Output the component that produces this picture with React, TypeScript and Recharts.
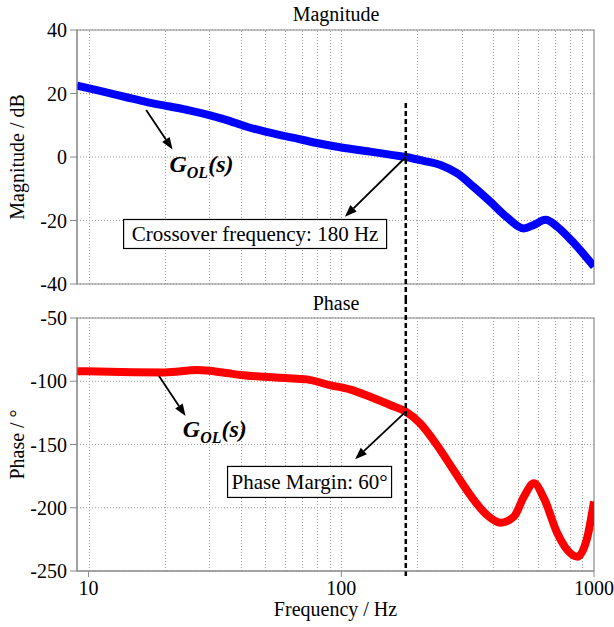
import React from 'react';
import {
  LineChart,
  Line,
  XAxis,
  YAxis,
  CartesianGrid,
  ReferenceLine,
  ReferenceDot,
  ReferenceArea
} from 'recharts';

const FONT = '"Liberation Serif", "Times New Roman", serif';

// open-loop magnitude (dB) vs frequency (Hz)
const magFreq = [9, 11, 14, 17, 21, 25, 30, 35, 42, 50, 65, 80, 100, 130, 160, 180, 212, 247, 287, 334, 389, 453, 527, 578, 643, 716, 834, 1000];
const magDb = [22.5, 20.9, 18.9, 17.3, 15.9, 14.7, 13.2, 11.7, 9.6, 8.0, 6.0, 4.4, 3.0, 1.7, 0.6, 0.0, -1.2, -2.5, -5.1, -9.4, -14.1, -19.0, -22.5, -21.4, -19.8, -22.0, -27.2, -34.5];

// open-loop phase (deg) vs frequency (Hz)
const phaseFreq = [9, 15, 20, 27, 35, 40, 50, 60, 73, 90, 108, 130, 156, 180, 205, 239, 278, 324, 377, 427, 482, 528, 578, 634, 716, 784, 859, 942, 1000];
const phaseDeg = [-92, -92.8, -93, -91.2, -93.5, -95, -96.5, -97.5, -98.5, -103, -106.4, -112.2, -118.8, -124, -133.2, -150.4, -170.2, -190, -205.7, -211.8, -207, -191.3, -180.7, -192.6, -220.2, -233.4, -238.7, -222.9, -195];

const xDomain = [9, 1000];
const xTicks = [10, 100, 1000];
const gridFreqs = [10, 20, 30, 40, 50, 60, 70, 80, 90, 100, 200, 300, 400, 500, 600, 700, 800, 900];
const magTicks = [-40, -20, 0, 20, 40];
const phaseTicks = [-250, -200, -150, -100, -50];
const crossoverHz = 180;

const magData = magFreq.map((f, i) => ({ f, v: magDb[i] }));
const phaseData = phaseFreq.map((f, i) => ({ f, v: phaseDeg[i] }));

const GRAY = '#8a8a8a';
const GRID = '#9c9c9c';
const tickStyle = { fill: '#000', fontSize: 20, fontFamily: FONT };

const Arrow = (p: any) => {
  const { x1, y1, x2, y2 } = p;
  const a = Math.atan2(y2 - y1, x2 - x1);
  const len = 12;
  const half = 4.5;
  const bx = x2 - len * Math.cos(a);
  const by = y2 - len * Math.sin(a);
  const px = -Math.sin(a) * half;
  const py = Math.cos(a) * half;
  return (
    <g>
      <line x1={x1} y1={y1} x2={bx} y2={by} stroke="#000" strokeWidth={1.8} />
      <polygon points={`${x2},${y2} ${bx + px},${by + py} ${bx - px},${by - py}`} fill="#000" />
    </g>
  );
};

// dotted grid line snapped to the pixel grid
const GridLine = (p: any) => {
  const x = Math.round(p.x1) + 0.5;
  return <line x1={x} y1={p.y1} x2={x} y2={p.y2} stroke={GRID} strokeWidth={1} strokeDasharray="1 2" />;
};

const boxLabel = (text: string, w: number, h: number) => (p: any) => (
  <g>
    <rect x={p.cx - w / 2} y={p.cy - h / 2} width={w} height={h} fill="#fff" stroke="#000" strokeWidth={1.2} />
    <text x={p.cx} y={p.cy} textAnchor="middle" dominantBaseline="central" fontFamily={FONT} fontSize={21} fill="#000">
      {text}
    </text>
  </g>
);

const gLabel = (p: any) => (
  <text x={p.cx} y={p.cy} fontFamily={FONT} fontWeight="bold" fontStyle="italic" fontSize={24} fill="#000">
    G
    <tspan fontSize={16} dy={6}>OL</tspan>
    <tspan dy={-6}>(s)</tspan>
  </text>
);

const yLabel = (text: string) => (props: any) => {
  const vb = props.viewBox || {};
  const cx = 17;
  const cy = vb.y + vb.height / 2;
  return (
    <text x={cx} y={cy} transform={`rotate(-90, ${cx}, ${cy})`} textAnchor="middle" dominantBaseline="central" fontFamily={FONT} fontSize={20} fill="#000">
      {text}
    </text>
  );
};

const vGrid = () =>
  gridFreqs.map(f => <ReferenceLine key={`g${f}`} x={f} shape={GridLine} />);

export default function App() {
  return (
    <div style={{ position: 'absolute', left: 0, top: 0, width: 614, height: 627, background: '#fff' }}>
      <div style={{ position: 'absolute', left: 0, top: 0 }}>
        <LineChart width={614} height={300} data={magData} margin={{ top: 30, right: 20, bottom: 16, left: 0 }}>
          <CartesianGrid vertical={false} stroke={GRID} strokeDasharray="1 2" />
          <XAxis dataKey="f" type="number" scale="log" domain={xDomain} allowDataOverflow hide />
          <YAxis
            type="number"
            domain={[-40, 40]}
            ticks={magTicks}
            width={77}
            tick={tickStyle}
            tickSize={7}
            tickMargin={3}
            axisLine={{ stroke: GRAY }}
            tickLine={{ stroke: GRAY }}
            label={yLabel('Magnitude / dB')}
          />
          {vGrid()}
          <ReferenceArea x1={xDomain[0]} x2={xDomain[1]} y1={-40} y2={40} fill="none" stroke={GRAY} strokeWidth={1.2} />
          <Line type="monotone" dataKey="v" stroke="#0000ff" strokeWidth={8} dot={false} isAnimationActive={false} />
          <ReferenceLine
            segment={[{ x: crossoverHz, y: 17 }, { x: crossoverHz, y: -45 }]}
            ifOverflow="visible"
            stroke="#000"
            strokeWidth={2.5}
            strokeDasharray="5 3"
          />
          <ReferenceLine segment={[{ x: 16.9, y: 14.8 }, { x: 21.5, y: 2.4 }]} shape={Arrow} />
          <ReferenceLine segment={[{ x: crossoverHz, y: 0 }, { x: 103.4, y: -18.8 }]} shape={Arrow} />
          <ReferenceDot x={20.9} y={-4.6} r={0} shape={gLabel} />
          <ReferenceDot x={45.6} y={-24.25} r={0} shape={boxLabel('Crossover frequency: 180 Hz', 263, 29)} />
        </LineChart>
      </div>
      <div style={{ position: 'absolute', left: 0, top: 300 }}>
        <LineChart width={614} height={327} data={phaseData} margin={{ top: 18, right: 20, bottom: 0, left: 0 }}>
          <CartesianGrid vertical={false} stroke={GRID} strokeDasharray="1 2" />
          <XAxis
            dataKey="f"
            type="number"
            scale="log"
            domain={xDomain}
            allowDataOverflow
            ticks={xTicks}
            height={56}
            tick={tickStyle}
            tickSize={6}
            tickMargin={4}
            axisLine={{ stroke: GRAY }}
            tickLine={{ stroke: GRAY }}
            label={{ value: 'Frequency / Hz', position: 'insideBottom', offset: 11, fill: '#000', fontSize: 20, fontFamily: FONT }}
          />
          <YAxis
            type="number"
            domain={[-250, -50]}
            ticks={phaseTicks}
            width={77}
            tick={tickStyle}
            tickSize={7}
            tickMargin={3}
            axisLine={{ stroke: GRAY }}
            tickLine={{ stroke: GRAY }}
            label={yLabel('Phase / °')}
          />
          {vGrid()}
          <ReferenceArea x1={xDomain[0]} x2={xDomain[1]} y1={-250} y2={-50} fill="none" stroke={GRAY} strokeWidth={1.2} />
          <Line type="monotone" dataKey="v" stroke="#ff0000" strokeWidth={8} dot={false} isAnimationActive={false} />
          <ReferenceLine
            segment={[{ x: crossoverHz, y: -35 }, { x: crossoverHz, y: -255.5 }]}
            ifOverflow="visible"
            stroke="#000"
            strokeWidth={2.5}
            strokeDasharray="5 3"
          />
          <ReferenceLine segment={[{ x: 19, y: -95.8 }, { x: 24.2, y: -127.5 }]} shape={Arrow} />
          <ReferenceLine segment={[{ x: crossoverHz, y: -124 }, { x: 113.4, y: -161.7 }]} shape={Arrow} />
          <ReferenceDot x={23.6} y={-144.1} r={0} shape={gLabel} />
          <ReferenceDot x={74.9} y={-179.6} r={0} shape={boxLabel('Phase Margin: 60°', 164, 31)} />
        </LineChart>
      </div>
      <svg width={614} height={627} style={{ position: 'absolute', left: 0, top: 0, pointerEvents: 'none' }}>
        <text x={336} y={21} textAnchor="middle" fontFamily={FONT} fontSize={20} fill="#000">Magnitude</text>
        <text x={336} y={310} textAnchor="middle" fontFamily={FONT} fontSize={20} fill="#000">Phase</text>
      </svg>
    </div>
  );
}
